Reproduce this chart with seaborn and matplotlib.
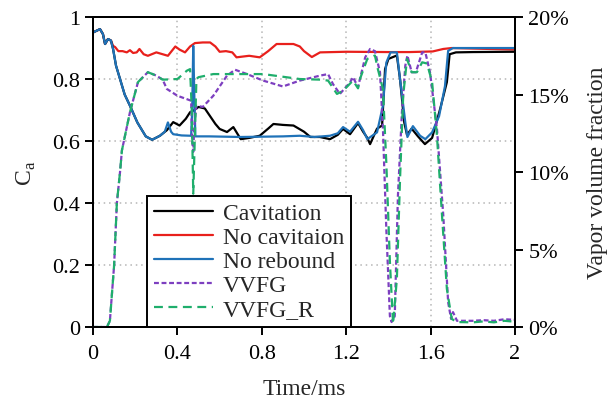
import matplotlib
matplotlib.use("Agg")
import matplotlib.pyplot as plt
from matplotlib.ticker import PercentFormatter
import pandas as pd
import seaborn as sns

# Cavitation (C_a)
t_cav = [0, 0.005, 0.033, 0.047, 0.057, 0.071, 0.085, 0.095, 0.109, 0.128, 0.15, 0.175, 0.21, 0.25, 0.28,
         0.317, 0.35, 0.38, 0.41, 0.44, 0.46, 0.48, 0.50, 0.53, 0.555, 0.58, 0.60, 0.635, 0.665, 0.70,
         0.74, 0.79, 0.83, 0.855, 0.90, 0.95, 1.0, 1.03, 1.075, 1.123, 1.16, 1.185, 1.218, 1.256, 1.28,
         1.30, 1.313, 1.346, 1.37, 1.384, 1.40, 1.44, 1.455, 1.475, 1.488, 1.51, 1.54, 1.573, 1.607,
         1.645, 1.677, 1.69, 1.72, 1.8, 2.0]
c_cav = [0.95, 0.952, 0.961, 0.945, 0.913, 0.929, 0.924, 0.897, 0.843, 0.80, 0.75, 0.714, 0.66, 0.615, 0.604,
         0.617, 0.635, 0.661, 0.65, 0.672, 0.693, 0.70, 0.71, 0.705, 0.68, 0.655, 0.639, 0.629, 0.645, 0.606,
         0.61, 0.617, 0.64, 0.655, 0.652, 0.65, 0.63, 0.613, 0.613, 0.606, 0.62, 0.639, 0.622, 0.658, 0.63,
         0.61, 0.59, 0.64, 0.65, 0.832, 0.865, 0.876, 0.80, 0.66, 0.62, 0.64, 0.615, 0.59, 0.61,
         0.703, 0.79, 0.88, 0.886, 0.887, 0.888]

# No cavitation (C_a)
t_nocav = [0, 0.005, 0.033, 0.047, 0.057, 0.071, 0.085, 0.095, 0.105, 0.12, 0.14, 0.16, 0.175, 0.19, 0.207,
           0.22, 0.24, 0.26, 0.30, 0.33, 0.355, 0.39, 0.41, 0.436, 0.46, 0.483, 0.52, 0.555, 0.58, 0.60,
           0.63, 0.66, 0.68, 0.74, 0.79, 0.83, 0.87, 0.95, 0.98, 1.0, 1.037, 1.076, 1.2, 1.4, 1.5, 1.61,
           1.66, 1.7, 2.0]
c_nocav = [0.95, 0.952, 0.961, 0.945, 0.913, 0.929, 0.924, 0.907, 0.903, 0.89, 0.89, 0.886, 0.893, 0.884, 0.886,
           0.897, 0.88, 0.875, 0.886, 0.88, 0.875, 0.905, 0.895, 0.886, 0.905, 0.916, 0.918, 0.918, 0.905, 0.888,
           0.89, 0.886, 0.87, 0.875, 0.87, 0.89, 0.913, 0.913, 0.905, 0.89, 0.871, 0.886, 0.888, 0.887, 0.887, 0.889,
           0.897, 0.90, 0.895]

# No rebound (C_a)
t_noreb = [0, 0.005, 0.033, 0.047, 0.057, 0.071, 0.085, 0.095, 0.109, 0.128, 0.15, 0.175, 0.21, 0.25, 0.28,
           0.317, 0.34, 0.355, 0.37, 0.38, 0.42, 0.465, 0.47, 0.475, 0.48, 0.485, 0.55, 0.7, 0.9, 0.98,
           1.05, 1.123, 1.16, 1.185, 1.218, 1.256, 1.28, 1.30, 1.346, 1.374, 1.39, 1.41, 1.44, 1.455, 1.48,
           1.49, 1.516, 1.55, 1.575, 1.607, 1.64, 1.668, 1.683, 1.706, 2.0]
c_noreb = [0.95, 0.952, 0.961, 0.945, 0.913, 0.929, 0.924, 0.897, 0.843, 0.80, 0.75, 0.714, 0.66, 0.615, 0.604,
           0.617, 0.63, 0.66, 0.63, 0.622, 0.618, 0.617, 0.70, 0.907, 0.75, 0.615, 0.615, 0.613, 0.615, 0.617,
           0.613, 0.617, 0.625, 0.645, 0.63, 0.662, 0.635, 0.606, 0.628, 0.714, 0.853, 0.886, 0.886, 0.80, 0.66,
           0.613, 0.648, 0.617, 0.606, 0.628, 0.68, 0.777, 0.891, 0.90, 0.90]

# VVFG (%)
t_vvfg = [0, 0.066, 0.08, 0.10, 0.113, 0.128, 0.137, 0.175, 0.213, 0.26, 0.30, 0.33, 0.35, 0.40, 0.445,
          0.465, 0.47, 0.475, 0.48, 0.49, 0.52, 0.57, 0.635, 0.673, 0.73, 0.806, 0.90, 0.98, 1.076, 1.114,
          1.137, 1.17, 1.218, 1.232, 1.256, 1.265, 1.29, 1.313, 1.336, 1.36, 1.374, 1.39, 1.407, 1.415, 1.43,
          1.445, 1.464, 1.48, 1.49, 1.51, 1.53, 1.56, 1.575, 1.597, 1.63, 1.66, 1.683, 1.697, 1.706, 1.725,
          1.8, 1.85, 1.9, 1.95, 2.0]
p_vvfg = [0, 0, 0.4, 4.0, 8.0, 10.0, 11.4, 13.86, 15.8, 16.44, 16.22, 15.96, 15.36, 14.92, 14.7,
          14.6, 12.0, 11.3, 13.0, 14.28, 14.2, 14.92, 16.22, 16.6, 16.32, 15.9, 15.52, 15.9, 16.22, 16.32,
          15.68, 15.04, 15.78, 16.12, 15.48, 16.0, 17.4, 17.94, 17.8, 16.44, 12.8, 6.32, 0.7, 0.32, 0.7,
          8.46, 13.86, 16.86, 17.52, 16.44, 16.44, 17.72, 17.72, 16.44, 12.8, 7.2, 1.6, 0.52, 0.96, 0.4,
          0.4, 0.44, 0.4, 0.5, 0.46]

# VVFG_R (%)
t_vvfgr = [0, 0.066, 0.08, 0.10, 0.113, 0.128, 0.137, 0.175, 0.213, 0.26, 0.30, 0.33, 0.40, 0.445, 0.46,
           0.468, 0.475, 0.482, 0.49, 0.50, 0.57, 0.65, 0.806, 0.98, 1.076, 1.114, 1.156, 1.185, 1.232, 1.256,
           1.265, 1.30, 1.336, 1.35, 1.374, 1.39, 1.407, 1.422, 1.44, 1.455, 1.47, 1.488, 1.51, 1.535, 1.56,
           1.583, 1.607, 1.63, 1.654, 1.677, 1.70, 1.725, 1.8, 1.85, 1.9, 1.95, 2.0]
p_vvfgr = [0, 0, 0.4, 4.0, 8.0, 10.0, 11.4, 13.86, 15.8, 16.44, 16.22, 15.96, 16.0, 16.54, 16.64,
           14.0, 8.6, 12.0, 16.0, 16.12, 16.32, 16.32, 16.32, 16.0, 15.96, 15.9, 15.04, 15.24, 15.9, 15.4,
           16.0, 17.3, 17.52, 16.64, 15.36, 10.6, 4.2, 0.2, 3.1, 9.54, 14.92, 17.3, 16.44, 16.44, 17.08,
           17.0, 15.8, 12.34, 7.2, 2.46, 0.52, 0.32, 0.3, 0.36, 0.3, 0.4, 0.34]

x_ticks = [0, 0.4, 0.8, 1.2, 1.6, 2.0]
x_ticklabels = ["0", "0.4", "0.8", "1.2", "1.6", "2"]
y_ticks = [0, 0.2, 0.4, 0.6, 0.8, 1.0]
y_ticklabels = ["0", "0.2", "0.4", "0.6", "0.8", "1"]

sns.set_style("ticks")
plt.rcParams['font.family'] = ['Liberation Serif', 'DejaVu Serif']
plt.rcParams['mathtext.fontset'] = 'custom'
plt.rcParams['mathtext.rm'] = 'Liberation Serif'
plt.rcParams['font.size'] = 16

fig = plt.figure(figsize=(6.1, 4.1), dpi=100)
ax = fig.add_axes([0.1525, 0.2, 0.6918, 0.756])
ax2 = ax.twinx()

df_cav = pd.DataFrame({"t": t_cav, "v": c_cav})
df_nocav = pd.DataFrame({"t": t_nocav, "v": c_nocav})
df_noreb = pd.DataFrame({"t": t_noreb, "v": c_noreb})
df_vvfg = pd.DataFrame({"t": t_vvfg, "v": p_vvfg})
df_vvfgr = pd.DataFrame({"t": t_vvfgr, "v": p_vvfgr})

lw = 1.6
sns.lineplot(data=df_nocav, x="t", y="v", ax=ax, color="#e8201c", lw=lw, estimator=None, label="No cavitaion")
sns.lineplot(data=df_cav, x="t", y="v", ax=ax, color="black", lw=lw, estimator=None, label="Cavitation")
sns.lineplot(data=df_noreb, x="t", y="v", ax=ax, color="#1f72b8", lw=lw, estimator=None, label="No rebound")
sns.lineplot(data=df_vvfg, x="t", y="v", ax=ax2, color="#7d3fc0", lw=lw, estimator=None,
             linestyle=(0, (2.2, 1.2)), label="VVFG")
sns.lineplot(data=df_vvfgr, x="t", y="v", ax=ax2, color="#1fae6c", lw=lw, estimator=None,
             linestyle=(0, (4, 2.5)), label="VVFG_R")

ax.set_xlim(0, 2)
ax.set_ylim(0, 1)
ax2.set_ylim(0, 20)
ax.set_xticks(x_ticks)
ax.set_xticklabels(x_ticklabels)
ax.set_yticks(y_ticks)
ax.set_yticklabels(y_ticklabels)
ax2.set_yticks([0, 5, 10, 15, 20])
ax2.yaxis.set_major_formatter(PercentFormatter(decimals=0))

ax.set_xlabel("Time/ms", fontsize=17, labelpad=11)
ax.set_ylabel(r"C$_\mathregular{a}$", fontsize=17, labelpad=10)
ax2.set_ylabel("Vapor volume fraction", fontsize=17, labelpad=13)

ax.grid(True, color="#b5b5b5", linestyle=(0, (1, 2.5)), linewidth=1.1)
for a in (ax, ax2):
    for s in a.spines.values():
        s.set_linewidth(1.4)
        s.set_color("black")
ax.tick_params(axis="both", direction="out", length=6, width=1.4, labelsize=16, colors="black")
ax.tick_params(axis="x", pad=6)
ax2.tick_params(axis="y", direction="out", length=6, width=1.4, labelsize=16, colors="black")

# legend with handles from both axes
h1, l1 = ax.get_legend_handles_labels()
h2, l2 = ax2.get_legend_handles_labels()
ax.get_legend().remove()
ax2.get_legend().remove()
order = [1, 0, 2]
handles = [h1[i] for i in order] + h2
labels = [l1[i] for i in order] + l2
leg = ax2.legend(handles, labels, loc="lower left", bbox_to_anchor=(0.128, 0.0), fontsize=17,
                 frameon=True, fancybox=False, edgecolor="black", framealpha=1,
                 handlelength=2.5, labelspacing=0.1, borderpad=0.3, handletextpad=0.4,
                 borderaxespad=0)
leg.get_frame().set_linewidth(1.4)

fig.savefig("out.png", dpi=100)
